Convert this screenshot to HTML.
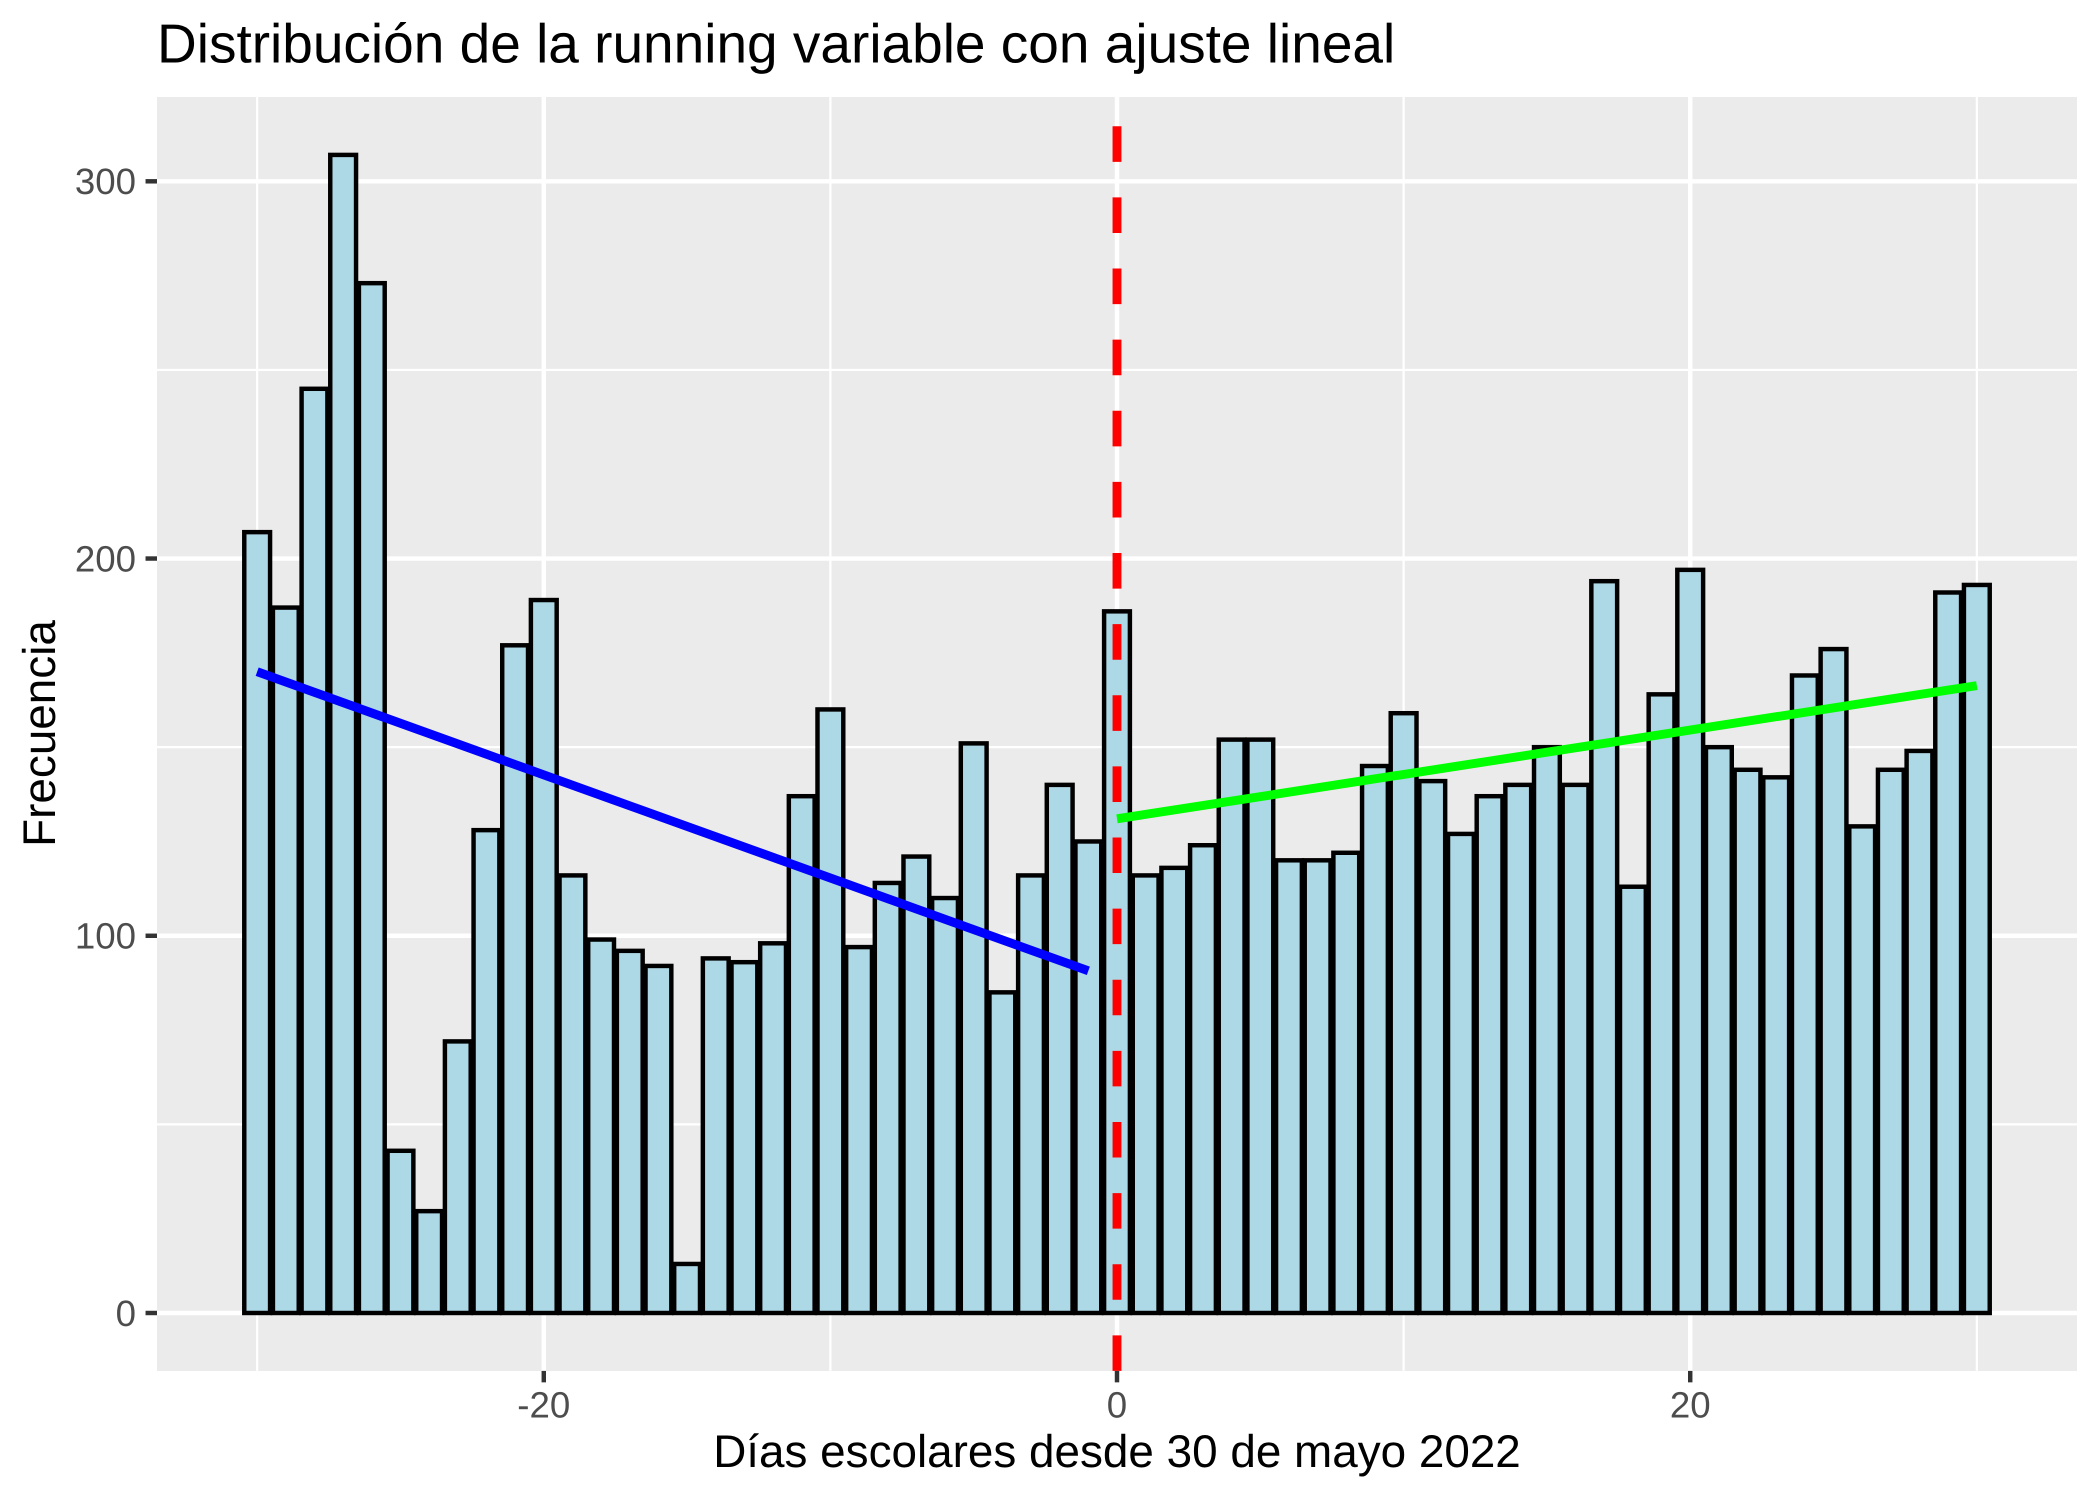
<!DOCTYPE html>
<html lang="es">
<head>
<meta charset="utf-8">
<title>Distribución de la running variable con ajuste lineal</title>
<style>
  html, body { margin: 0; padding: 0; background: #ffffff; }
  #chart { display: block; width: 2100px; height: 1500px; font-family: "Liberation Sans", Arial, sans-serif; text-rendering: geometricPrecision; }
</style>
</head>
<body>
<svg id="chart" xmlns="http://www.w3.org/2000/svg" width="2100" height="1500" viewBox="0 0 2100 1500">
  <rect x="0" y="0" width="2100" height="1500" fill="#ffffff"></rect>
  <rect x="157" y="97" width="1920" height="1274" fill="#EBEBEB"></rect>
  <g id="grid-minor"></g>
  <g id="grid-major"></g>
  <g id="bars"></g>
  <g id="overlays"></g>
  <g id="ticks"></g>
  <g id="tick-labels" font-size="36.67" fill="#4D4D4D"></g>
  <text x="157" y="62.7" font-size="55" fill="#000000">Distribución de la running variable con ajuste lineal</text>
  <text x="1117" y="1467" font-size="45.83" fill="#000000" text-anchor="middle">Días escolares desde 30 de mayo 2022</text>
  <text transform="translate(55 733.5) rotate(-90)" font-size="45.83" fill="#000000" text-anchor="middle">Frecuencia</text>
</svg>
<script>
const days = [-30,-29,-28,-27,-26,-25,-24,-23,-22,-21,-20,-19,-18,-17,-16,-15,-14,-13,-12,-11,-10,-9,-8,-7,-6,-5,-4,-3,-2,-1,0,1,2,3,4,5,6,7,8,9,10,11,12,13,14,15,16,17,18,19,20,21,22,23,24,25,26,27,28,29,30];
const counts = [207,187,245,307,273,43,27,72,128,177,189,116,99,96,92,13,94,93,98,137,160,97,114,121,110,151,85,116,140,125,186,116,118,124,152,152,120,120,122,145,159,141,127,137,140,150,140,194,113,164,197,150,144,142,169,176,129,144,149,191,193];
const xMajorTicks = [-20,0,20];
const xMinorTicks = [-30,-10,10,30];
const yMajorTicks = [0,100,200,300];
const yMinorTicks = [50,150,250];
const xTickLabels = ['-20','0','20'];
const yTickLabels = ['0','100','200','300'];
const cutoffDay = [0];
const fitLeftX = [-30,-1];
const fitLeftY = [170,90.7];
const fitRightX = [0,30];
const fitRightY = [131,166.3];
const barWidthDays = 0.9;

const PANEL_LEFT = 157, PANEL_RIGHT = 2077, PANEL_TOP = 97, PANEL_BOTTOM = 1370.9;
const X_DOMAIN_MIN = -33.495, X_DOMAIN_MAX = 33.495;
const Y_DOMAIN_MIN = -15.35, Y_DOMAIN_MAX = 322.35;

function xScale(v) {
  return PANEL_LEFT + (v - X_DOMAIN_MIN) / (X_DOMAIN_MAX - X_DOMAIN_MIN) * (PANEL_RIGHT - PANEL_LEFT);
}
function yScale(v) {
  return PANEL_BOTTOM - (v - Y_DOMAIN_MIN) / (Y_DOMAIN_MAX - Y_DOMAIN_MIN) * (PANEL_BOTTOM - PANEL_TOP);
}
function svgEl(tag) {
  return document.createElementNS('http://www.w3.org/2000/svg', tag);
}
function setAttrs(el, attrs) {
  Object.keys(attrs).forEach(function (k) { el.setAttribute(k, attrs[k]); });
  return el;
}

const gridMinor = document.getElementById('grid-minor');
const gridMajor = document.getElementById('grid-major');
const barsGroup = document.getElementById('bars');
const overlays = document.getElementById('overlays');
const ticksGroup = document.getElementById('ticks');
const labelsGroup = document.getElementById('tick-labels');

yMinorTicks.forEach(function (v) {
  const el = setAttrs(svgEl('line'), { x1: PANEL_LEFT, x2: PANEL_RIGHT, y1: yScale(v), y2: yScale(v), stroke: '#ffffff', 'stroke-width': 2.22 });
  
  
  gridMinor.appendChild(el);
});
xMinorTicks.forEach(function (v) {
  const el = setAttrs(svgEl('line'), { x1: xScale(v), x2: xScale(v), y1: PANEL_TOP, y2: PANEL_BOTTOM, stroke: '#ffffff', 'stroke-width': 2.22 });
  
  
  gridMinor.appendChild(el);
});
yMajorTicks.forEach(function (v) {
  const el = setAttrs(svgEl('line'), { x1: PANEL_LEFT, x2: PANEL_RIGHT, y1: yScale(v), y2: yScale(v), stroke: '#ffffff', 'stroke-width': 4.45 });
  
  
  gridMajor.appendChild(el);
});
xMajorTicks.forEach(function (v) {
  const el = setAttrs(svgEl('line'), { x1: xScale(v), x2: xScale(v), y1: PANEL_TOP, y2: PANEL_BOTTOM, stroke: '#ffffff', 'stroke-width': 4.45 });
  
  
  gridMajor.appendChild(el);
});

days.forEach(function (d, i) {
  const left = xScale(d - barWidthDays / 2);
  const right = xScale(d + barWidthDays / 2);
  const top = yScale(counts[i]);
  const el = setAttrs(svgEl('rect'), { x: left, y: top, width: right - left, height: yScale(0) - top, fill: '#ADD8E6', stroke: '#000000', 'stroke-width': 4.45 });
  
  
  barsGroup.appendChild(el);
});

cutoffDay.forEach(function (d) {
  const el = setAttrs(svgEl('line'), { x1: xScale(d), x2: xScale(d), y1: PANEL_BOTTOM, y2: PANEL_TOP, stroke: '#FF0000', 'stroke-width': 8.89, 'stroke-dasharray': '35.56 35.56' });
  
  
  overlays.appendChild(el);
});

function fitPoints(xs, ys) {
  return xs.map(function (x, i) { return xScale(x) + ',' + yScale(ys[i]); }).join(' ');
}
const fitLeft = setAttrs(svgEl('polyline'), { points: fitPoints(fitLeftX, fitLeftY), fill: 'none', stroke: '#0000FF', 'stroke-width': 8.89 });


overlays.appendChild(fitLeft);

const fitRight = setAttrs(svgEl('polyline'), { points: fitPoints(fitRightX, fitRightY), fill: 'none', stroke: '#00FF00', 'stroke-width': 8.89 });


overlays.appendChild(fitRight);

xMajorTicks.forEach(function (v, i) {
  const tick = setAttrs(svgEl('line'), { x1: xScale(v), x2: xScale(v), y1: PANEL_BOTTOM, y2: PANEL_BOTTOM + 11.46, stroke: '#333333', 'stroke-width': 4.45 });
  
  
  ticksGroup.appendChild(tick);
  const label = setAttrs(svgEl('text'), { x: xScale(v), y: 1417.5, 'text-anchor': 'middle' });
  
  
  label.textContent = xTickLabels[i];
  labelsGroup.appendChild(label);
});
yMajorTicks.forEach(function (v, i) {
  const tick = setAttrs(svgEl('line'), { x1: PANEL_LEFT - 11.46, x2: PANEL_LEFT, y1: yScale(v), y2: yScale(v), stroke: '#333333', 'stroke-width': 4.45 });
  
  
  ticksGroup.appendChild(tick);
  const label = setAttrs(svgEl('text'), { x: 136, y: yScale(v) + 12.8, 'text-anchor': 'end' });
  
  
  label.textContent = yTickLabels[i];
  labelsGroup.appendChild(label);
});
</script>
</body>
</html>
